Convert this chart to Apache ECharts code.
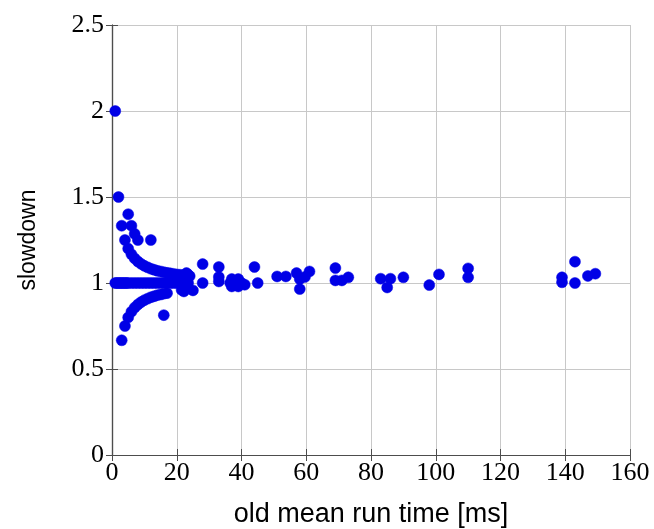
<!DOCTYPE html>
<html>
<head>
<meta charset="utf-8">
<script src="https://cdn.jsdelivr.net/npm/echarts@6/dist/echarts.min.js"></script>
<style>
  html, body { margin: 0; padding: 0; background: #fff; }
  #chart { width: 654px; height: 529px; }
</style>
</head>
<body>
<div id="chart"></div>
<script>
// Old mean run time [ms] for each benchmark, paired with its slowdown below.
const oldRunTime = [
  // slowdown of exactly 1
  1, 1.5, 2, 2.5, 3, 3.5, 4, 4.5, 5, 6, 7, 8, 9, 10, 11, 12, 13, 14, 15, 16, 17, 18, 19, 20, 21, 22, 23.5, 28, 45,
  // upper branch
  1, 2, 3, 4, 5, 6, 7, 8, 9, 10, 11, 12, 13, 14, 15, 16, 17, 18, 19, 20, 21, 22, 23.5,
  // lower branch
  3, 4, 5, 6, 7, 8, 9, 10, 11, 12, 13, 14, 15, 16, 17,
  // scattered short runs
  5, 6, 7, 8, 12, 16, 21.5, 22.2, 23, 24, 25,
  // longer runs
  28, 33, 33, 33, 37, 39, 37, 39, 41, 36.5, 40, 44, 51, 53.7, 57, 58, 58, 59.6, 61,
  69, 69, 71, 73, 83, 86, 85, 90, 98, 101, 110, 110, 139, 139, 143, 143, 147, 149.3
];
const slowdown = [
  1, 1, 1, 1, 1, 1, 1, 1, 1, 1, 1, 1, 1, 1, 1, 1, 1, 1, 1, 1, 1, 1, 1, 1, 1, 1, 1, 1, 1,
  2, 1.5, 1.333, 1.25, 1.2, 1.167, 1.143, 1.125, 1.111, 1.1, 1.091, 1.083, 1.077, 1.071, 1.067, 1.063, 1.059, 1.056, 1.053, 1.05, 1.048, 1.045, 1.048,
  0.667, 0.75, 0.8, 0.833, 0.857, 0.875, 0.889, 0.9, 0.909, 0.917, 0.923, 0.929, 0.933, 0.938, 0.941,
  1.4, 1.333, 1.286, 1.25, 1.25, 0.813, 0.96, 0.951, 1.058, 1.04, 0.957,
  1.11, 1.093, 1.035, 1.009, 1.023, 1.023, 0.98, 0.98, 0.99, 1, 1, 1.093, 1.038, 1.038, 1.058, 1.023, 0.965, 1.035, 1.067,
  1.087, 1.015, 1.015, 1.033, 1.025, 1.025, 0.974, 1.033, 0.988, 1.05, 1.085, 1.033, 1.033, 1.004, 1.124, 1, 1.041, 1.054
];
const xTicks = [0, 20, 40, 60, 80, 100, 120, 140, 160];
const yTicks = [0, 0.5, 1, 1.5, 2, 2.5];

const points = oldRunTime.map((t, i) => [t, slowdown[i]]);

const frame = '#4d4d4d';
const gridColor = '#c8c8c8';
const tickFont = { fontFamily: 'Liberation Serif', fontSize: 26, color: '#000' };

const chart = echarts.init(document.getElementById('chart'), null, { renderer: 'canvas' });
chart.setOption({
  animation: false,
  grid: { left: 112, right: 24, top: 25, bottom: 74, containLabel: false, outerBoundsMode: 'none' },
  xAxis: [
    {
      type: 'value', min: xTicks[0], max: xTicks[xTicks.length - 1], interval: 20,
      name: 'old mean run time [ms]', nameLocation: 'middle', nameGap: 46,
      nameTextStyle: { fontFamily: 'Liberation Sans', fontSize: 27, color: '#000' },
      axisLine: { show: true, lineStyle: { color: frame, width: 1.2 } },
      axisTick: { show: true, inside: true, length: 6, lineStyle: { color: frame } },
      axisLabel: Object.assign({ margin: 5 }, tickFont),
      splitLine: { show: true, lineStyle: { color: gridColor, width: 1 } }
    },
    {
      type: 'value', position: 'top', min: xTicks[0], max: xTicks[xTicks.length - 1], interval: 20,
      axisLine: { show: true, lineStyle: { color: frame, width: 1.2 } },
      axisTick: { show: true, inside: true, length: 6, lineStyle: { color: frame } },
      axisLabel: { show: false },
      splitLine: { show: false }
    }
  ],
  yAxis: [
    {
      type: 'value', min: yTicks[0], max: yTicks[yTicks.length - 1], interval: 0.5,
      name: 'slowdown', nameLocation: 'middle', nameGap: 72,
      nameTextStyle: { fontFamily: 'Liberation Sans', fontSize: 23, color: '#000' },
      axisLine: { show: true, lineStyle: { color: frame, width: 1.2 } },
      axisTick: { show: true, inside: true, length: 6, lineStyle: { color: frame } },
      axisLabel: Object.assign({ margin: 8 }, tickFont),
      splitLine: { show: true, lineStyle: { color: gridColor, width: 1 } }
    },
    {
      type: 'value', position: 'right', min: yTicks[0], max: yTicks[yTicks.length - 1], interval: 0.5,
      axisLine: { show: true, lineStyle: { color: frame, width: 1.2 } },
      axisTick: { show: true, inside: true, length: 6, lineStyle: { color: frame } },
      axisLabel: { show: false },
      splitLine: { show: false }
    }
  ],
  series: [{
    type: 'scatter',
    data: points,
    symbol: 'circle',
    symbolSize: 11,
    clip: false,
    itemStyle: { color: '#0000e6', borderColor: '#0000e6', borderWidth: 0.5, opacity: 1 }
  }]
});
</script>
</body>
</html>
